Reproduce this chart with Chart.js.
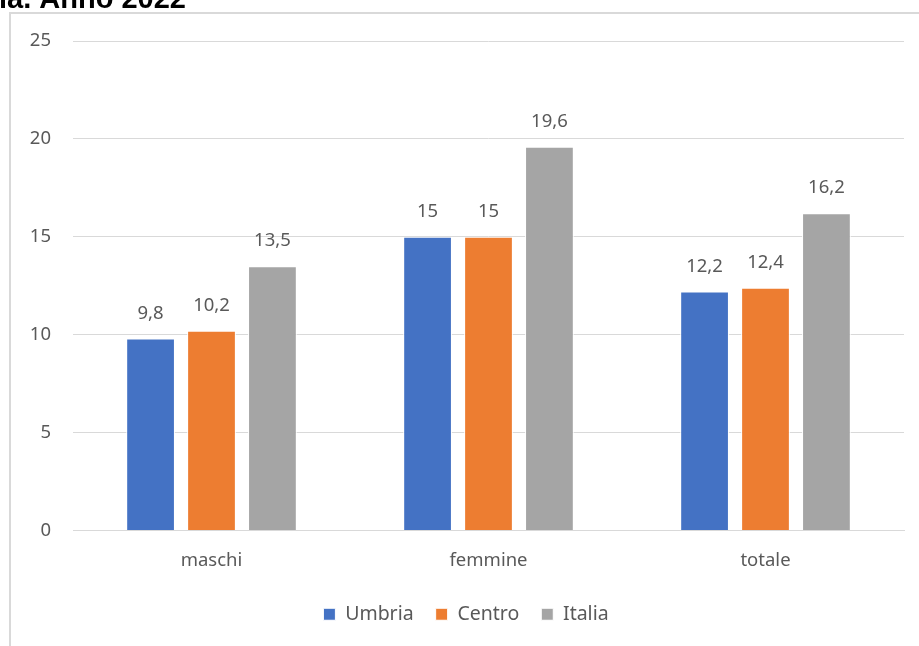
<!DOCTYPE html>
<html>
<head>
<meta charset="utf-8">
<script src="https://cdn.jsdelivr.net/npm/chart.js@4"></script>
<style>
  body { margin: 0; background: #fff; }
  #chart { display: block; }
</style>
</head>
<body>
<canvas id="chart" width="919" height="646"></canvas>
<script>
"use strict";

const categories = ["maschi", "femmine", "totale"];
const umbria = [9.8, 15, 12.2];
const centro = [10.2, 15, 12.4];
const italia = [13.5, 19.6, 16.2];
const yTicks = [0, 5, 10, 15, 20, 25];

const textColor = "#595959";
const fontFamily = "'Noto Sans', 'Open Sans', sans-serif";

// frame + cut-off title, like the pasted Excel picture
const framePlugin = {
  id: "frame",
  beforeDraw(chart) {
    const ctx = chart.ctx;
    ctx.save();
    ctx.fillStyle = "#fff";
    ctx.fillRect(0, 0, chart.width, chart.height);
    ctx.strokeStyle = "#D9D9D9";
    ctx.lineWidth = 2;
    ctx.strokeRect(10, 13, chart.width + 20, chart.height + 20);
    ctx.fillStyle = "#000";
    ctx.font = "bold 29px 'Liberation Sans', Arial, sans-serif";
    ctx.textAlign = "right";
    ctx.textBaseline = "alphabetic";
    ctx.fillText("Umbria. Anno 2022", 186, 8);
    ctx.restore();
  },
};

// value labels above bars, with comma decimals
const labelPlugin = {
  id: "valueLabels",
  afterDatasetsDraw(chart) {
    const ctx = chart.ctx;
    ctx.save();
    ctx.fillStyle = textColor;
    ctx.font = "18.5px " + fontFamily;
    ctx.textAlign = "center";
    ctx.textBaseline = "alphabetic";
    chart.data.datasets.forEach((ds, i) => {
      chart.getDatasetMeta(i).data.forEach((bar, j) => {
        const txt = String(ds.data[j]).replace(".", ",");
        ctx.fillText(txt, bar.x, bar.y - 20);
      });
    });
    ctx.restore();
  },
};

new Chart(document.getElementById("chart").getContext("2d"), {
  type: "bar",
  data: {
    labels: categories,
    datasets: [
      { label: "Umbria", data: umbria, backgroundColor: "#4472C4" },
      { label: "Centro", data: centro, backgroundColor: "#ED7D31" },
      { label: "Italia", data: italia, backgroundColor: "#A5A5A5" },
    ].map((d) =>
      Object.assign(d, {
        borderColor: "#fff",
        borderWidth: 1,
        categoryPercentage: 0.66,
        barPercentage: 0.8,
      })
    ),
  },
  options: {
    responsive: false,
    animation: false,
    devicePixelRatio: 1,
    layout: { padding: { left: 28, right: 15, top: 41, bottom: 12 } },
    scales: {
      x: {
        grid: { display: false, drawTicks: false },
        border: { color: "#D9D9D9", width: 1 },
        ticks: { color: textColor, font: { family: fontFamily, size: 18.5 }, padding: 19 },
        afterFit(scale) {
          scale.height = 52;
        },
      },
      y: {
        min: 0,
        max: 25,
        afterBuildTicks(scale) {
          scale.ticks = yTicks.map((v) => ({ value: v }));
        },
        grid: { color: "#D9D9D9", drawTicks: false },
        border: { display: false },
        ticks: { color: textColor, font: { family: fontFamily, size: 18.5 }, padding: 22 },
        afterFit(scale) {
          scale.width = 45;
        },
      },
    },
    plugins: {
      legend: {
        position: "bottom",
        labels: {
          color: textColor,
          font: { family: fontFamily, size: 19.5 },
          boxWidth: 12,
          boxHeight: 12,
          padding: 22,
        },
      },
      tooltip: { enabled: false },
    },
  },
  plugins: [framePlugin, labelPlugin],
});
</script>
</body>
</html>
